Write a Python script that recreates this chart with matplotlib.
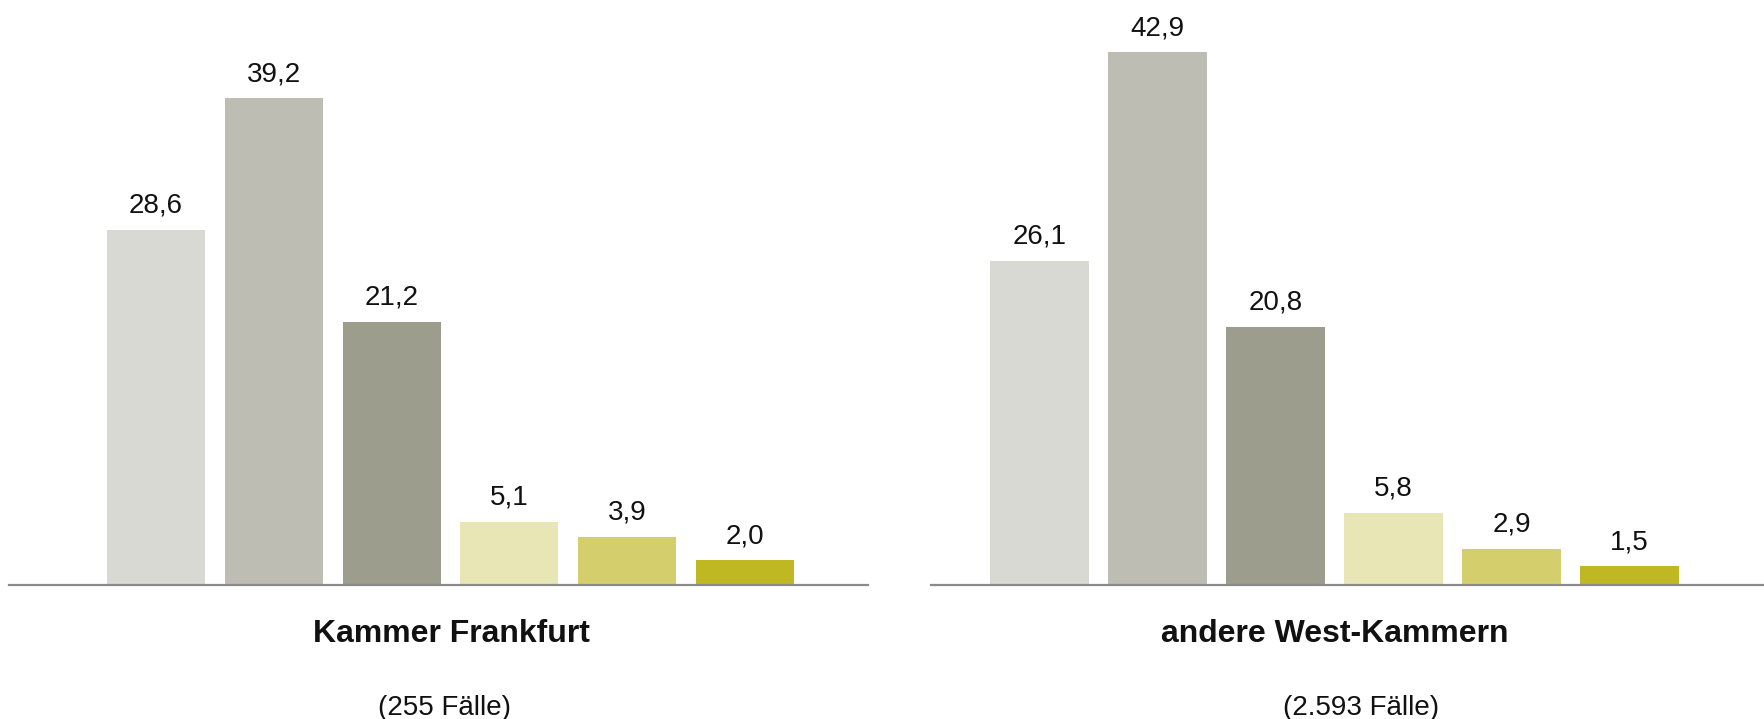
import matplotlib
matplotlib.use("Agg")
import matplotlib.pyplot as plt

plt.rcParams['font.family'] = ['Liberation Sans', 'DejaVu Sans']

categories = ["1", "2", "3", "4", "5", "6"]
frankfurt = [28.6, 39.2, 21.2, 5.1, 3.9, 2.0]
west = [26.1, 42.9, 20.8, 5.8, 2.9, 1.5]
panel_titles = ["Kammer Frankfurt", "andere West-Kammern"]
panel_subtitles = ["(255 Fälle)", "(2.593 Fälle)"]
colors = ["#D8D9D3", "#BDBDB3", "#9C9D8C", "#E8E6B4", "#D4CF6C", "#BFB823"]

W, H = 1764, 719
fig = plt.figure(figsize=(W / 100, H / 100), dpi=100)

axis_y = 585  # pixel from top
panels = [
    dict(vals=frankfurt, x0=9, x1=868, xlim=(-1.248, 6.044), title_x=451, sub_x=445),
    dict(vals=west, x0=931, x1=1764, xlim=(-0.92, 6.14), title_x=1335, sub_x=1361),
]

for i, p in enumerate(panels):
    ax = fig.add_axes([p['x0'] / W, (H - axis_y) / H, (p['x1'] - p['x0']) / W, axis_y / H])
    ax.set_xlim(*p['xlim'])
    ax.set_ylim(0, 47.1)
    xs = list(range(len(p['vals'])))
    bars = ax.bar(xs, p['vals'], width=0.832, color=colors, zorder=2)
    for b, v in zip(bars, p['vals']):
        ax.annotate(f"{v:.1f}".replace('.', ','), (b.get_x() + b.get_width() / 2, v),
                    xytext=(0, 12.3), textcoords='offset points', ha='center', va='baseline',
                    fontsize=20, color='#111111')
    for s in ['top', 'left', 'right']:
        ax.spines[s].set_visible(False)
    ax.spines['bottom'].set_color('#8A8A8A')
    ax.spines['bottom'].set_linewidth(1.6)
    ax.spines['bottom'].set_zorder(3)
    ax.set_xticks([])
    ax.set_yticks([])
    ax.patch.set_alpha(0)
    fig.text(p['title_x'] / W, (H - 642) / H, panel_titles[i], ha='center', va='baseline',
             fontsize=23, fontweight='bold', color='#111111')
    fig.text(p['sub_x'] / W, (H - 715) / H, panel_subtitles[i], ha='center', va='baseline',
             fontsize=20, color='#111111')

fig.savefig("out.png", dpi=100)
